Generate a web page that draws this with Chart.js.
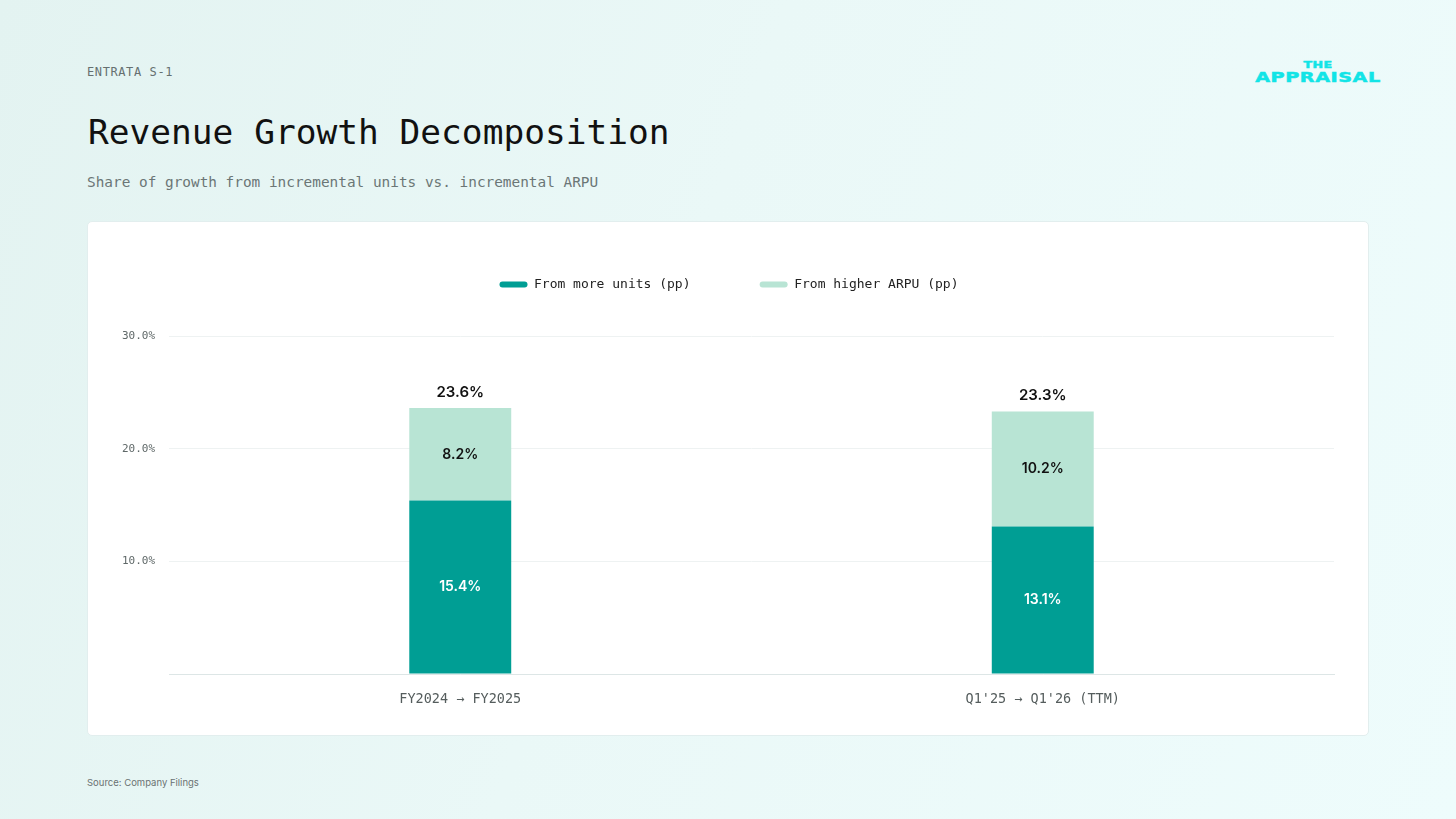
<!DOCTYPE html>
<html>
<head>
<meta charset="utf-8">
<script src="https://cdn.jsdelivr.net/npm/chart.js@4.4.1/dist/chart.umd.min.js"></script>
<style>
  html, body { margin: 0; padding: 0; }
  body {
    width: 1456px; height: 819px; overflow: hidden; position: relative;
    background: linear-gradient(110deg, #e3f3f1 0%, #eaf8f7 45%, #eefcfc 100%);
    font-family: "DejaVu Sans Mono", monospace;
  }
  .kicker { position: absolute; left: 87px; top: 65px; font-size: 12px; color: #667070; letter-spacing: 0.6px; }
  .title { position: absolute; left: 88px; top: 112px; font-size: 34.5px; color: #111; }
  .subtitle { position: absolute; left: 87px; top: 174px; font-size: 14.4px; color: #6b7676; }
  .logo { position: absolute; left: 1248px; top: 61px; width: 140px; text-align: center; color: #12e4e6;
          font-family: "DejaVu Sans", sans-serif; font-weight: 700; line-height: 1; -webkit-text-stroke: 0.5px #12e4e6; }
  .logo .a { font-size: 9px; letter-spacing: 0.3px; display: block; transform: scaleX(1.4); }
  .logo .b { font-size: 13.5px; letter-spacing: 0.4px; display: block; transform: scaleX(1.42); margin-top: 1px; }
  .card { position: absolute; left: 87px; top: 221px; width: 1280px; height: 513px; background: #fff;
          border: 1px solid #e2eeee; border-radius: 5px; }
  .card canvas { position: absolute; left: 0; top: 0; }
  .source { position: absolute; left: 87px; top: 777px; font-family: "Inter", "Liberation Sans", sans-serif; font-size: 9.5px; color: #6a7272; }
</style>
</head>
<body>
<div class="kicker">ENTRATA S-1</div>
<div class="title">Revenue Growth Decomposition</div>
<div class="subtitle">Share of growth from incremental units vs. incremental ARPU</div>
<div class="logo"><span class="a">THE</span><span class="b">APPRAISAL</span></div>
<div class="card"><canvas id="growthChart" width="1282" height="515"></canvas></div>
<div class="source">Source: Company Filings</div>

<script>
const periods = ['FY2024 \u2192 FY2025', "Q1'25 \u2192 Q1'26 (TTM)"];
const fromUnits = [15.4, 13.1];
const fromArpu = [8.2, 10.2];
const totals = [23.6, 23.3];
const yTicks = [10, 20, 30];

const darkTeal = '#009e94';
const lightTeal = '#b8e4d4';

// draws segment values inside bars and the totals above them
const barLabels = {
  id: 'barLabels',
  afterDatasetsDraw(chart) {
    const ctx = chart.ctx;
    ctx.save();
    ctx.textAlign = 'center';
    ctx.textBaseline = 'middle';
    chart.data.datasets.forEach((ds, di) => {
      const meta = chart.getDatasetMeta(di);
      meta.data.forEach((bar, i) => {
        ctx.font = '600 14px Inter, "Liberation Sans", sans-serif';
        ctx.fillStyle = di === 0 ? '#ffffff' : '#111111';
        ctx.fillText(ds.data[i].toFixed(1) + '%', bar.x, (bar.y + bar.base) / 2);
        if (di === chart.data.datasets.length - 1) {
          ctx.font = '600 15px Inter, "Liberation Sans", sans-serif';
          ctx.fillStyle = '#111111';
          ctx.fillText(totals[i].toFixed(1) + '%', bar.x, bar.y - 16);
        }
      });
    });
    ctx.restore();
  }
};

// fixed legend block height, and legend centred a little right like the reference
const legendPlace = {
  id: 'legendPlace',
  beforeInit(chart) {
    const fit = chart.legend.fit;
    chart.legend.fit = function () {
      fit.bind(chart.legend)();
      this.height = 88;
    };
  },
  afterLayout(chart) {
    chart.legend.left += 36;
  }
};

const ctx = document.getElementById('growthChart').getContext('2d');
const growthChart = new Chart(ctx, {
  type: 'bar',
  data: {
    labels: periods,
    datasets: [{
      label: 'From more units (pp)',
      data: fromUnits,
      backgroundColor: darkTeal,
      borderWidth: 0
    }, {
      label: 'From higher ARPU (pp)',
      data: fromArpu,
      backgroundColor: lightTeal,
      borderWidth: 0
    }]
  },
  plugins: [barLabels, legendPlace],
  options: {
    responsive: false,
    animation: false,
    devicePixelRatio: 1,
    datasets: {
      bar: { barPercentage: 0.175, categoryPercentage: 1 }
    },
    layout: {
      padding: { top: 26, left: 0, right: 36, bottom: 0 }
    },
    plugins: {
      tooltip: { enabled: false },
      legend: {
        position: 'top',
        labels: {
          boxWidth: 28,
          boxHeight: 6,
          useBorderRadius: true,
          borderRadius: 3,
          padding: 30,
          color: '#222',
          font: { family: '"DejaVu Sans Mono", monospace', size: 13 },
          generateLabels(chart) {
            const items = Chart.defaults.plugins.legend.labels.generateLabels(chart);
            items[0].text = items[0].text + '     ';
            return items;
          }
        }
      }
    },
    scales: {
      x: {
        stacked: true,
        grid: { display: false },
        border: { display: true, color: '#dde6e6', width: 1 },
        ticks: {
          padding: 9,
          color: '#555d5d',
          font: { family: '"DejaVu Sans Mono", monospace', size: 13.5 }
        },
        afterFit(scale) { scale.height = 63; }
      },
      y: {
        stacked: true,
        min: 0,
        max: 30,
        afterBuildTicks(scale) {
          scale.ticks = [0].concat(yTicks).map(v => ({ value: v }));
        },
        grid: { color: '#eef2f2', drawTicks: false },
        border: { display: false },
        ticks: {
          padding: 14,
          color: '#5f6868',
          font: { family: '"DejaVu Sans Mono", monospace', size: 11 },
          callback: v => v === 0 ? '' : v.toFixed(1) + '%'
        },
        afterFit(scale) { scale.width = 81; }
      }
    }
  }
});
</script>
</body>
</html>
